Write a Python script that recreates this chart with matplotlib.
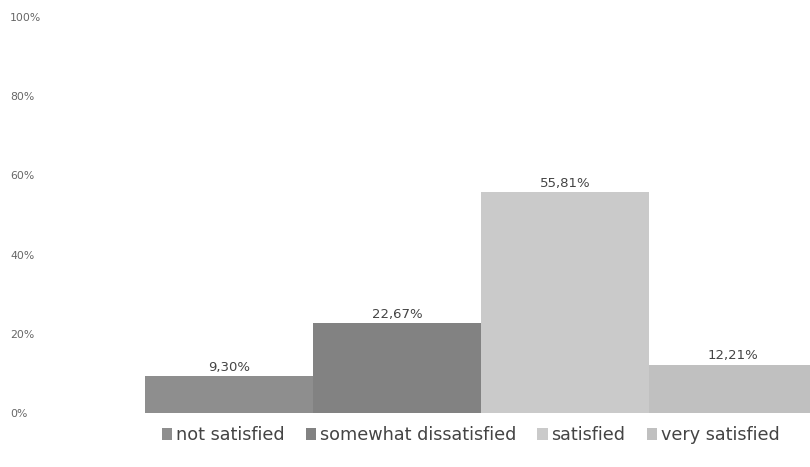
import numpy as np
import matplotlib.pyplot as plt

categories = ["not satisfied", "somewhat dissatisfied", "satisfied", "very satisfied"]
values = [9.30, 22.67, 55.81, 12.21]
labels = ["9,30%", "22,67%", "55,81%", "12,21%"]
colors = ["#8e8e8e", "#828282", "#cacaca", "#c0c0c0"]
yticks = [0, 20, 40, 60, 80, 100]

plt.rcParams['font.family'] = ['DejaVu Sans']

fig = plt.figure(figsize=(8.1, 4.67), dpi=100)
ax = fig.add_axes([0.179, 0.1156, 0.821, 0.848])

x = np.arange(len(categories))
bars = ax.bar(x, values, width=1.0, color=colors, label=categories)

for xi, v, lab in zip(x, values, labels):
    ax.text(xi, v + 0.6, lab, ha="center", va="bottom", fontsize=9.5, color="#444444")

ax.set_xlim(-0.5, -0.5 + 665 / 168)
ax.set_ylim(0, 100)
ax.set_yticks(yticks)
ax.set_yticklabels([f"{t}%" for t in yticks], fontsize=7.8, color="#666666", ha="left")
ax.tick_params(axis="y", length=0, pad=97)
ax.set_xticks([])
for s in ax.spines.values():
    s.set_visible(False)

fig.legend(bars, categories, loc="center", bbox_to_anchor=(0.581, 0.068), ncol=4,
           frameon=False, fontsize=12.7, handlelength=0.6, handleheight=0.6,
           handletextpad=0.2, columnspacing=1.2, labelcolor="#444444")

plt.savefig("out.png", dpi=100)
